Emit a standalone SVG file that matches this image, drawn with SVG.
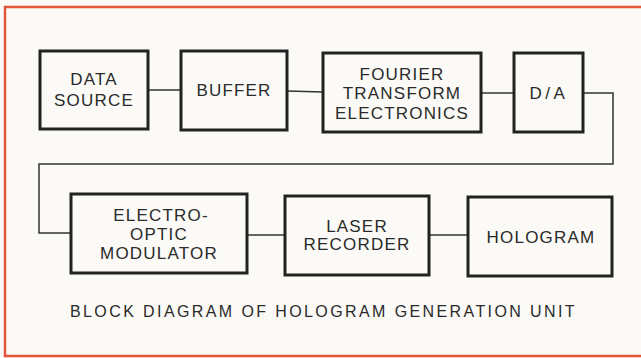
<svg xmlns="http://www.w3.org/2000/svg" width="641" height="358" viewBox="0 0 641 358">
<style>
.bg{fill:#fbfaf6}
.frame{fill:none;stroke:#e4553d;stroke-width:2.5}
.box{fill:none;stroke:#222;stroke-width:3}
.t{font-family:"Liberation Sans",Arial,sans-serif;font-size:17px;fill:#2a2a2a;text-anchor:middle;letter-spacing:1.2px}
.cap{font-family:"Liberation Sans",Arial,sans-serif;font-size:16px;fill:#2a2a2a;letter-spacing:2.4px}
.c{fill:none;stroke:#333;stroke-width:1.5}
</style>
<rect class="bg" x="0" y="0" width="641" height="358"/>
<polyline class="frame" points="641,7 5,7 5,356 641,356"/>
<g id="connectors">
<line class="c" x1="148" y1="90" x2="181" y2="90"/>
<line class="c" x1="287" y1="91" x2="323" y2="92"/>
<line class="c" x1="481" y1="93" x2="514" y2="93"/>
<polyline class="c" points="583,93 613,93 613,164 39,164 39,233 71,233"/>
<line class="c" x1="247" y1="235" x2="285" y2="235"/>
<line class="c" x1="429" y1="235" x2="468" y2="235"/>
</g>
<g id="data-source">
<rect class="box" x="40" y="51" width="108" height="78"/>
<text class="t" x="94" y="85">DATA</text>
<text class="t" x="94" y="106">SOURCE</text>
</g>
<g id="buffer">
<rect class="box" x="181" y="51" width="106" height="79"/>
<text class="t" x="234" y="96">BUFFER</text>
</g>
<g id="fourier">
<rect class="box" x="323" y="53" width="158" height="79"/>
<text class="t" x="402" y="79.5">FOURIER</text>
<text class="t" x="402" y="99">TRANSFORM</text>
<text class="t" x="402" y="118.5">ELECTRONICS</text>
</g>
<g id="da">
<rect class="box" x="514" y="53" width="69" height="79"/>
<text class="t" x="549" y="99" style="letter-spacing:3.5px">D/A</text>
</g>
<g id="eom">
<rect class="box" x="71" y="194" width="176" height="79"/>
<text class="t" x="161" y="221">ELECTRO-</text>
<text class="t" x="159" y="240">OPTIC</text>
<text class="t" x="159" y="259">MODULATOR</text>
</g>
<g id="laser">
<rect class="box" x="285" y="196" width="144" height="79"/>
<text class="t" x="357" y="232">LASER</text>
<text class="t" x="357" y="250">RECORDER</text>
</g>
<g id="hologram">
<rect class="box" x="468" y="197" width="144" height="79"/>
<text class="t" x="541" y="243">HOLOGRAM</text>
</g>
<text class="cap" x="70" y="317">BLOCK DIAGRAM OF HOLOGRAM GENERATION UNIT</text>
</svg>
